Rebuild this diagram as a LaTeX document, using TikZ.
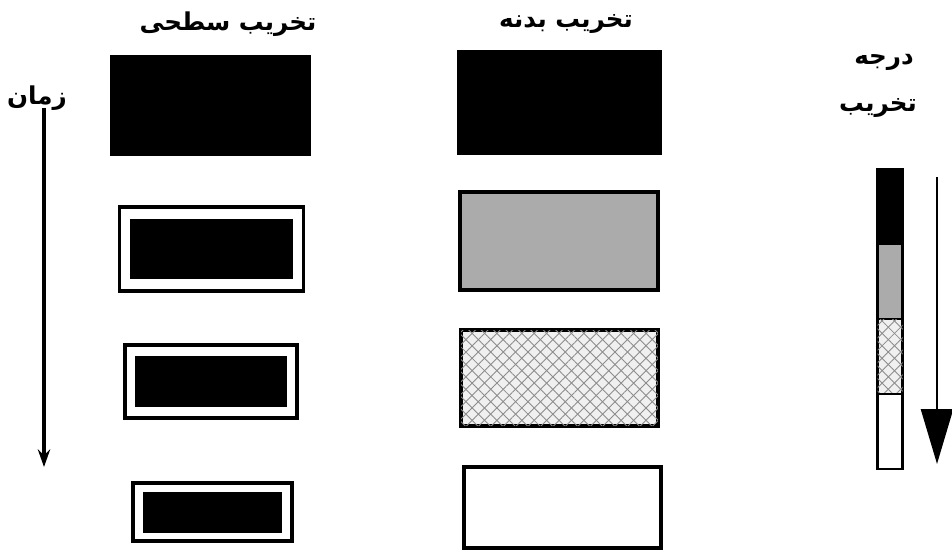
\documentclass[tikz,border=0pt]{standalone}
\usepackage{fontspec}
\usepackage{tikz}
\usetikzlibrary{arrows.meta,patterns.meta}
\TeXXeTstate=1
\newfontfamily\arabicfont[Script=Arabic]{DejaVu Sans}

\begin{document}
\begin{tikzpicture}[x=0.02cm, y=-0.02cm,
    title/.style={font=\arabicfont\bfseries\fontsize{14}{17}\selectfont, inner sep=0pt},
    solidbox/.style={fill=black, inner sep=0pt},
    shellbox/.style={draw, line width=2pt, fill=white, inner sep=0pt},
    graybox/.style={draw, line width=2pt, fill=black!33, inner sep=0pt},
    hatchbox/.style={draw, line width=2pt, fill=black!6, inner sep=0pt,
        postaction={pattern={Lines[angle=45,distance=5pt,line width=0.5pt]}, pattern color=black!45},
        postaction={pattern={Lines[angle=-45,distance=5pt,line width=0.5pt]}, pattern color=black!45}},
    barseg/.style={minimum width=0.50cm, minimum height=1.5cm, line width=1.5pt}]
    \useasboundingbox (0,0) rectangle (952,557);

    % titles
    \node[title] (tsurf) at (228,24) {\beginR تخریب سطحی\endR};
    \node[title] (tbody) at (566,24) {\beginR تخریب بدنه\endR};
    \node[title] (ttime) at (37,98) {\beginR زمان\endR};
    \node[title] (tgrade1) at (884,62) {\beginR درجه\endR};
    \node[title] (tgrade2) at (878,108) {\beginR تخریب\endR};

    % surface damage column
    \node[solidbox, minimum width=4.02cm, minimum height=2.02cm] (surf1) at (210.5,105.5) {};
    \foreach \x/\y/\ow/\oh/\iw/\ih [count=\i from 2] in {
            211.5/249/3.68/1.68/3.26/1.22,
            211/381.5/3.44/1.46/3.04/1.04,
            212.5/512/3.18/1.16/2.78/0.82} {
        \node[shellbox, minimum width=\ow cm, minimum height=\oh cm] (surf\i) at (\x,\y) {};
        \node[solidbox, minimum width=\iw cm, minimum height=\ih cm] (core\i) at (\x,\y) {};
    }

    % body damage column
    \node[solidbox, minimum width=4.10cm, minimum height=2.10cm] (body1) at (559.5,102.5) {};
    \node[graybox, minimum width=3.96cm, minimum height=1.96cm] (body2) at (559,241) {};
    \node[hatchbox, minimum width=3.94cm, minimum height=1.92cm] (body3) at (559.5,378) {};
    \node[shellbox, minimum width=3.94cm, minimum height=1.62cm] (body4) at (562.5,507.5) {};

    % time arrow
    \coordinate (time0) at (44,108);
    \coordinate (time1) at (44,467);
    \draw[line width=2pt, -{Stealth[length=10pt, width=7pt]}] (time0) -- (time1);

    % grade bar
    \foreach \s [count=\i] in {solidbox, graybox, hatchbox, shellbox}
        \node[\s, barseg, draw] (seg\i) at (890, {169+75*(\i-1)+37.5}) {};
    \coordinate (grade0) at (937,177);
    \coordinate (grade1) at (937,464);
    \draw[line width=1.5pt, -{Triangle[length=1.1cm, width=0.64cm]}] (grade0) -- (grade1);
\end{tikzpicture}
\end{document}
